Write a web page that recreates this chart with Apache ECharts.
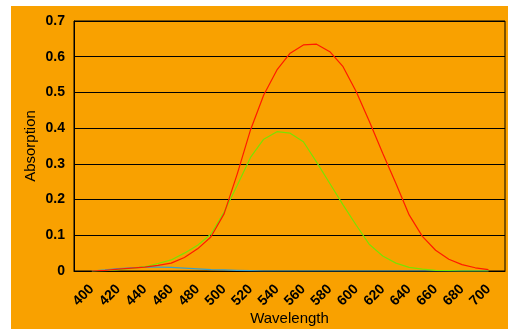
<!DOCTYPE html>
<html>
<head>
<meta charset="utf-8">
<script src="https://cdn.jsdelivr.net/npm/echarts@6/dist/echarts.min.js"></script>
<style>
  html, body { margin: 0; padding: 0; background: #ffffff; }
  #chart { position: absolute; left: 11px; top: 6px; width: 497px; height: 323px; }
</style>
</head>
<body>
<div id="chart"></div>
<script>
// Wavelength samples (nm), every 10 nm
const wavelengths = [400, 410, 420, 430, 440, 450, 460, 470, 480, 490, 500, 510, 520, 530, 540, 550,
  560, 570, 580, 590, 600, 610, 620, 630, 640, 650, 660, 670, 680, 690, 700];

// Absorption curves
const redAbs = [0, 0.002, 0.005, 0.008, 0.011, 0.016, 0.022, 0.038, 0.062, 0.095, 0.16, 0.272, 0.395, 0.493, 0.563, 0.61,
  0.633, 0.635, 0.614, 0.572, 0.502, 0.418, 0.33, 0.245, 0.157, 0.097, 0.058, 0.033, 0.018, 0.009, 0.004];
const greenAbs = [0, 0.001, 0.004, 0.007, 0.012, 0.021, 0.031, 0.05, 0.072, 0.103, 0.165, 0.24, 0.318, 0.369, 0.39, 0.386,
  0.362, 0.305, 0.245, 0.185, 0.128, 0.074, 0.042, 0.022, 0.01, 0.005, 0.002, 0.001, 0, 0, 0];
const blueAbs = [0, 0.003, 0.007, 0.009, 0.011, 0.011, 0.01, 0.008, 0.006, 0.004, 0.003, 0.002, 0.001, 0, 0, 0,
  0, 0, 0, 0, 0, 0, 0, 0, 0, 0, 0, 0, 0, 0, 0];

// Tick labels
const xTickLabels = [400, 420, 440, 460, 480, 500, 520, 540, 560, 580, 600, 620, 640, 660, 680, 700];
const yTickLabels = [0, 0.1, 0.2, 0.3, 0.4, 0.5, 0.6, 0.7];

const pairs = arr => wavelengths.map((w, i) => [w, arr[i]]);
const font = 'Liberation Sans, Arial, sans-serif';

const chart = echarts.init(document.getElementById('chart'));
chart.setOption({
  backgroundColor: '#F9A100',
  animation: false,
  grid: {
    left: 63, top: 15, right: 3, bottom: 58,
    outerBoundsMode: 'none', containLabel: false,
    show: true, borderColor: '#000', borderWidth: 1, backgroundColor: 'transparent'
  },
  xAxis: {
    type: 'value',
    min: 386.5, max: 712.5,
    name: 'Wavelength', nameLocation: 'middle', nameGap: 40, nameMoveOverlap: false,
    nameTextStyle: { fontFamily: font, fontSize: 15, color: '#000' },
    axisLine: { show: true, lineStyle: { color: '#000', width: 1 } },
    axisTick: { show: false },
    splitLine: { show: false },
    axisLabel: {
      customValues: xTickLabels,
      rotate: 45, margin: 16,
      fontFamily: font, fontSize: 14, fontWeight: 'bold', color: '#000'
    }
  },
  yAxis: {
    type: 'value',
    min: 0, max: 0.7, interval: 0.1,
    name: 'Absorption', nameLocation: 'middle', nameGap: 36, nameRotate: 90, nameMoveOverlap: false,
    nameTextStyle: { fontFamily: font, fontSize: 15, color: '#000' },
    axisLine: { show: true, lineStyle: { color: '#000', width: 1 } },
    axisTick: { show: false },
    splitLine: { show: true, lineStyle: { color: '#000', width: 1 } },
    axisLabel: {
      margin: 9,
      fontFamily: font, fontSize: 14, fontWeight: 'bold', color: '#000',
      formatter: v => {
        const t = yTickLabels.find(y => Math.abs(y - v) < 1e-9);
        return t === undefined ? '' : String(t);
      }
    }
  },
  series: [
    { type: 'line', data: pairs(blueAbs), showSymbol: false, lineStyle: { color: '#3A9FC8', width: 1.2 }, z: 3 },
    { type: 'line', data: pairs(greenAbs), showSymbol: false, lineStyle: { color: '#7AE200', width: 1.2 }, z: 4 },
    { type: 'line', data: pairs(redAbs), showSymbol: false, lineStyle: { color: '#FF1A00', width: 1.2 }, z: 5 }
  ]
});
</script>
</body>
</html>
